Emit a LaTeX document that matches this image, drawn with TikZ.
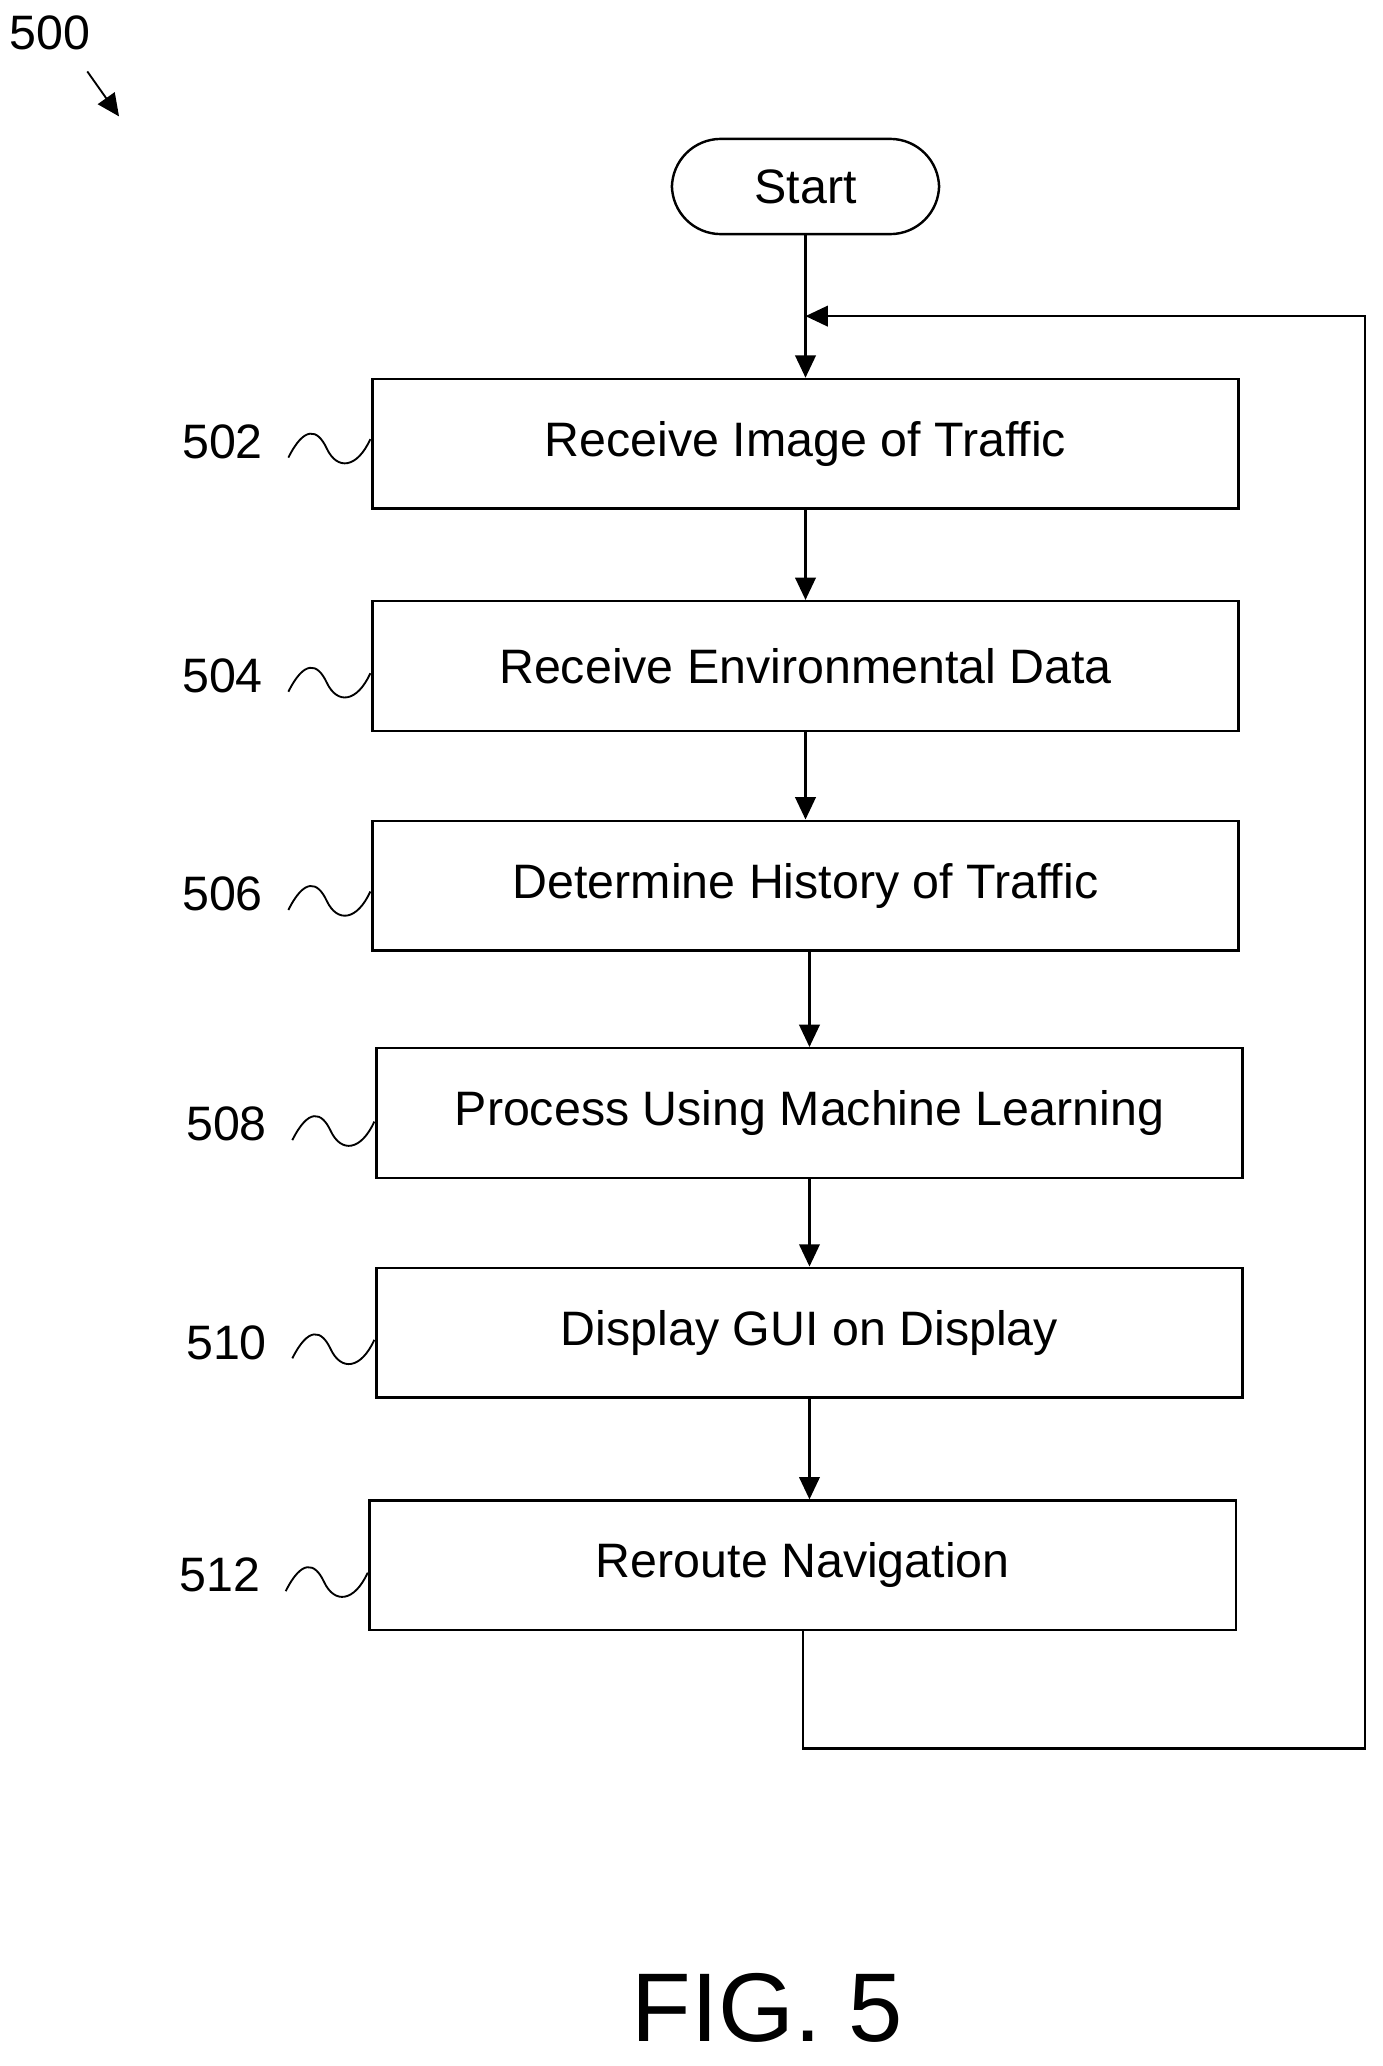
\documentclass[tikz,border=0pt]{standalone}
\usepackage{fontspec}
\setmainfont{Liberation Sans}
\usetikzlibrary{arrows.meta}
\begin{document}
\begin{tikzpicture}[x=0.05cm,y=-0.05cm,line width=2.6pt,
 box/.style={draw,minimum width=655*0.05cm,minimum height=98*0.05cm,font=\fontsize{52}{60}\selectfont},
 lab/.style={font=\fontsize{52}{60}\selectfont},
 arr/.style={-{Triangle[length=24pt,width=22pt]}}]
\useasboundingbox (0,0) rectangle (1045,1562);
\node[draw,rounded corners=37*0.05cm,minimum width=202*0.05cm,minimum height=72*0.05cm,font=\fontsize{52}{60}\selectfont] (s) at (609,141) {Start};
\node[box] (a) at (609,335.5) {Receive Image of Traffic};
\node[box] (b) at (609,503.5) {Receive Environmental Data};
\node[box] (c) at (609,669.5) {Determine History of Traffic};
\node[box] (d) at (612,841.5) {Process Using Machine Learning};
\node[box] (e) at (612,1007.5) {Display GUI on Display};
\node[box] (f) at (607,1183.5) {Reroute Navigation};
\coordinate (j) at (609,239);
\draw[arr] (s) -- (a);
\draw[arr] (a) -- (b);
\draw[arr] (b) -- (c);
\draw[arr] (c.south -| d.north) -- (d);
\draw[arr] (d) -- (e);
\draw[arr] (e) -- (f.north -| e.south);
\draw[arr] (f.south) -- (607,1322) -- (1032,1322) -- (1032,239) -- (j);
\foreach \n/\t/\y/\x in {a/502/334/280,b/504/511/280,c/506/676/280,d/508/850/283,e/510/1015/283,f/512/1191/278}{
 \node[lab,anchor=east] (l\n) at (\x-78,\y) {\t};
 \draw[line width=2pt] (\x-62,\y+12) .. controls (\x-50,\y-12) and (\x-40,\y-10) .. (\x-33,\y+5) .. controls (\x-25,\y+22) and (\x-10,\y+20) .. (\x,\y-2);
}
\node[lab] (n500) at (38,25) {500};
\coordinate (p) at (90,88);
\draw[arr,line width=2pt] (66,54) -- (p);
\node[font=\fontsize{105}{120}\selectfont] (fig) at (580,1518) {FIG. 5};
\end{tikzpicture}
\end{document}
